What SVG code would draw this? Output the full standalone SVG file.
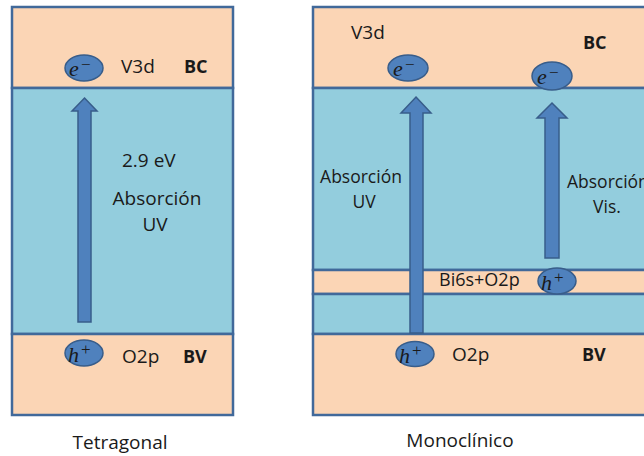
<svg xmlns="http://www.w3.org/2000/svg" width="644" height="456" viewBox="0 0 644 456">
<defs>
<style>
.pe{fill:#FBD5B5;stroke:#41699A;stroke-width:2.5}
.bl{fill:#93CDDD;stroke:#41699A;stroke-width:2.5}
.el{fill:#4F81BD;stroke:#385D8A;stroke-width:1.5}
.ar{fill:#4F81BD;stroke:#385D8A;stroke-width:1.5}
.t{font-family:"Open Sans","Liberation Sans",sans-serif;font-size:19px;fill:#1a1a1a}
.b{font-family:"Open Sans","Liberation Sans",sans-serif;font-size:18px;font-weight:bold;fill:#1a1a1a}
.m{font-family:"Liberation Serif","DejaVu Serif",serif;font-size:22px;font-style:italic;fill:#1a1a1a}
.s{font-family:"Liberation Serif","DejaVu Serif",serif;font-size:17px;fill:#1a1a1a}
</style>
</defs>
<rect width="644" height="456" fill="#ffffff"/>
<g id="tetragonal">
<rect class="pe" x="12" y="7" width="221" height="81"/>
<rect class="bl" x="12" y="88" width="221" height="246"/>
<rect class="pe" x="12" y="334" width="221" height="81"/>
<text class="t" x="121" y="73">V3d</text>
<text class="b" x="184" y="73">BC</text>
<text class="t" x="122" y="167">2.9 eV</text>
<text class="t" x="157" y="205" text-anchor="middle">Absorción</text>
<text class="t" x="155" y="231" text-anchor="middle">UV</text>
<text class="t" x="122" y="363">O2p</text>
<text class="b" x="183" y="363">BV</text>
<text class="t" x="120" y="449" text-anchor="middle">Tetragonal</text>
</g>
<g id="monoclinico">
<rect class="pe" x="313" y="7" width="345" height="81"/>
<rect class="bl" x="313" y="88" width="345" height="182"/>
<rect class="pe" x="313" y="270" width="345" height="24"/>
<rect class="bl" x="313" y="294" width="345" height="40"/>
<rect class="pe" x="313" y="334" width="345" height="81"/>
<text class="t" x="351" y="39">V3d</text>
<text class="b" x="583" y="49">BC</text>
<text class="t" x="361" y="183" text-anchor="middle" style="font-size:17.5px">Absorción</text>
<text class="t" x="364" y="208" text-anchor="middle" style="font-size:17.5px">UV</text>
<text class="t" x="567" y="188" style="font-size:17.5px">Absorción</text>
<text class="t" x="607" y="213" text-anchor="middle" style="font-size:17.5px">Vis.</text>
<text class="t" x="439" y="286" style="font-size:18px">Bi6s+O2p</text>
<text class="t" x="452" y="361">O2p</text>
<text class="b" x="582" y="361">BV</text>
<text class="t" x="460" y="447" text-anchor="middle">Monoclínico</text>
</g>
<g id="connectors">
<polygon class="ar" points="84.5,98 97,111 91,111 91,322 78,322 78,111 72,111"/>
<polygon class="ar" points="416,97 431,113 423,113 423,333 410,333 410,113 401,113"/>
<polygon class="ar" points="552,103 567,118 559,118 559,258 545,258 545,118 537,118"/>
</g>
<g id="e-tetra">
<ellipse class="el" cx="84" cy="68" rx="19" ry="13"/>
<text class="m" x="69" y="76">e</text><text class="s" x="81" y="70">−</text>
</g>
<g id="h-tetra">
<ellipse class="el" cx="84" cy="353" rx="19" ry="13"/>
<text class="m" x="68" y="362">h</text><text class="s" x="81" y="355">+</text>
</g>
<g id="e-mono-uv">
<ellipse class="el" cx="408" cy="68" rx="20" ry="13"/>
<text class="m" x="393" y="76">e</text><text class="s" x="405" y="70">−</text>
</g>
<g id="e-mono-vis">
<ellipse class="el" cx="552" cy="76" rx="20" ry="14"/>
<text class="m" x="537" y="84">e</text><text class="s" x="549" y="78">−</text>
</g>
<g id="h-mono-bi">
<ellipse class="el" cx="557" cy="281" rx="19" ry="13"/>
<text class="m" x="541" y="290">h</text><text class="s" x="554" y="283">+</text>
</g>
<g id="h-mono-o2p">
<ellipse class="el" cx="415" cy="354" rx="19" ry="12.5"/>
<text class="m" x="399" y="363">h</text><text class="s" x="412" y="356">+</text>
</g>
</svg>
